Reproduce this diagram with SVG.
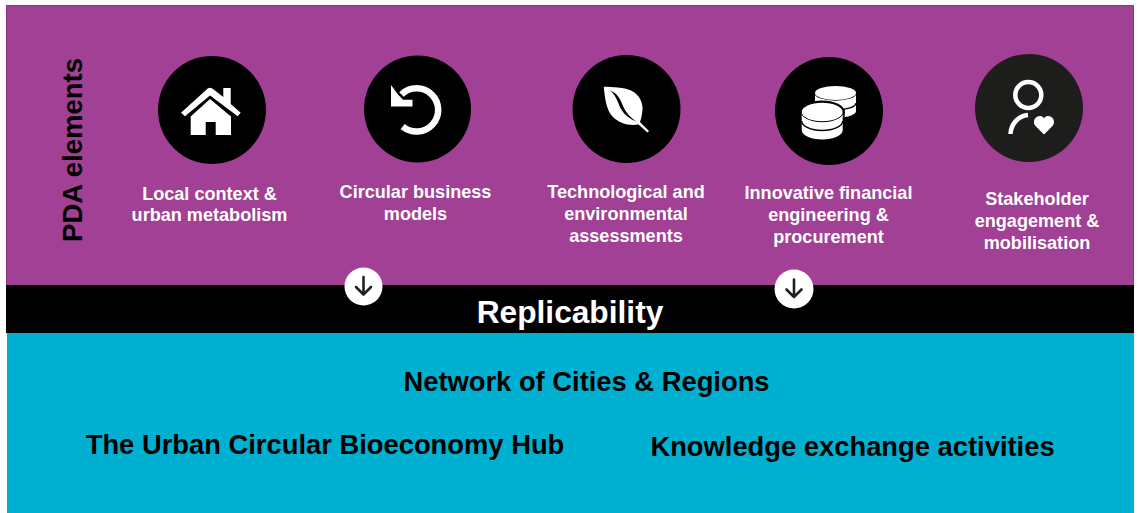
<svg xmlns="http://www.w3.org/2000/svg" width="1139" height="513" viewBox="0 0 1139 513">
<style>
text{font-family:"Liberation Sans",Arial,sans-serif;font-weight:700;text-anchor:middle}
.w{fill:#fff;font-size:18.100px}
.k{fill:#000;font-size:27.350px}
.i{fill:#fff;stroke:none}
.s{fill:none;stroke:#fff;stroke-width:5}
.g{fill:none;stroke:#000;stroke-width:1.400}
.a{fill:none;stroke:#222;stroke-width:2.600;stroke-linecap:round;stroke-linejoin:round}
</style>
<rect width="1139" height="513" fill="#fff"/>
<g id="bands">
<rect x="6.500" y="5.500" width="1127" height="280" fill="#a14094" stroke="#8a3580" stroke-width="1"/>
<rect x="7" y="333" width="1127" height="180" fill="#00b0d0"/>
<rect x="6" y="285" width="1128" height="48" fill="#000"/>
</g>
<g id="title"><text transform="translate(82,150) rotate(-90)" style="font-size:27.500px" fill="#000">PDA elements</text></g>
<g id="node-local">
<circle cx="212" cy="110" r="54" fill="#000"/>
<path class="i" d="M181 112.700L208 88.300Q210 87 212 88.300L223.300 97V88H230.700V104L240.700 112.700L237.700 116.300L210 95.500L185 116.300Z"/>
<path class="i" d="M190.700 116.500V135H205.700V122H215.700V135H231V116.500L210 99Z"/>
<text class="w" x="209.500" y="200">Local context &amp;</text>
<text class="w" x="209.500" y="221">urban metabolism</text>
</g>
<g id="node-circular">
<circle cx="417.500" cy="109" r="53.500" fill="#000"/>
<path class="i" d="M391 85V106.500H412.500V99.700H403L398 94.500Z"/>
<path class="s" style="stroke-width:6.500" d="M401.500 94.500A21.600 21.600 0 1 1 402.700 126.500"/>
<text class="w" x="415.500" y="198">Circular business</text>
<text class="w" x="415.500" y="220">models</text>
</g>
<g id="node-tech">
<circle cx="626.500" cy="109" r="54" fill="#000"/>
<path class="i" d="M603.700 86.700C612 87 624 87 631 90.500C640 95 643 103 642.500 110C642 114 641.500 118 640 122L649 131L647.500 132.500L638.500 124.500C630 126 620 124 613 117C606 110 605 98 603.700 86.700Z"/>
<path d="M610 90.500C618 93 621 101 623 106C626 113 631 118 637 122C630 119 624 115 620.500 108C617.500 102 616 95 610 90.500Z" fill="#000"/>
<text class="w" x="626" y="198">Technological and</text>
<text class="w" x="626" y="220">environmental</text>
<text class="w" x="626" y="242">assessments</text>
</g>
<g id="node-finance">
<circle cx="829" cy="111" r="54" fill="#000"/>
<path class="i" d="M815 93V111A20.500 7 0 0 0 856 111V93Z"/>
<path class="g" d="M815 93A20.500 7 0 0 0 856 93M815 103A20.500 7 0 0 0 856 103"/>
<ellipse class="i" cx="835.500" cy="93" rx="20.500" ry="7"/>
<path d="M801.700 112V130A20.500 9.500 0 0 0 842.700 130V112Z" fill="#000" stroke="#000" stroke-width="4"/>
<ellipse cx="822.200" cy="112" rx="20.500" ry="9.500" fill="#000" stroke="#000" stroke-width="4"/>
<path class="i" d="M801.700 112V130A20.500 9.500 0 0 0 842.700 130V112Z"/>
<path class="g" d="M801.700 112A20.500 9.500 0 0 0 842.700 112M801.700 121A20.500 9.500 0 0 0 842.700 121"/>
<ellipse class="i" cx="822.200" cy="112" rx="20.500" ry="9.200"/>
<text class="w" x="828.500" y="199">Innovative financial</text>
<text class="w" x="828.500" y="221">engineering &amp;</text>
<text class="w" x="828.500" y="243">procurement</text>
</g>
<g id="node-stakeholder">
<circle cx="1029" cy="108" r="54" fill="#1d1d1b"/>
<circle class="s" cx="1028.300" cy="95" r="13" style="stroke-width:4.500"/>
<path class="s" style="stroke-width:4.500" d="M1010.500 134C1011 124 1018 116 1028 115"/>
<path class="i" d="M1044 134.500L1035.500 126C1032 122 1035 116 1040 116C1042 116 1043.500 117 1044 118.500C1044.500 117 1046 116 1048 116C1053 116 1056 122 1052.500 126Z"/>
<text class="w" x="1037" y="205">Stakeholder</text>
<text class="w" x="1037" y="227">engagement &amp;</text>
<text class="w" x="1037" y="249">mobilisation</text>
</g>
<g id="connectors">
<circle cx="363.500" cy="286.500" r="19" fill="#fff"/>
<path class="a" d="M363.500 277V294M356 287L363.500 294.500L371 287"/>
<circle cx="794" cy="289" r="19.500" fill="#fff"/>
<path class="a" d="M794 279.500V296.500M786.500 289.500L794 297L801.500 289.500"/>
</g>
<g id="node-replicability"><text x="570" y="323" fill="#fff" style="font-size:31.700px">Replicability</text></g>
<g id="node-network"><text class="k" x="586.500" y="391">Network of Cities &amp; Regions</text></g>
<g id="node-hub"><text class="k" x="325" y="454">The Urban Circular Bioeconomy Hub</text></g>
<g id="node-knowledge"><text class="k" x="852.500" y="456">Knowledge exchange activities</text></g>
</svg>
